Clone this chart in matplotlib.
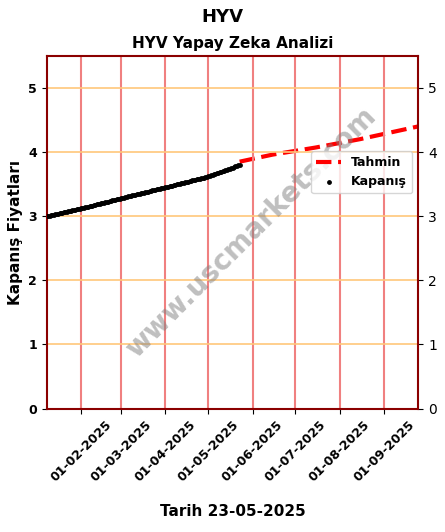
import matplotlib
matplotlib.use("Agg")
import matplotlib.pyplot as plt
import matplotlib.dates as mdates
import numpy as np
import pandas as pd

# closing prices (at a few anchor dates)
close_dates = ["2025-01-08", "2025-02-01", "2025-03-01", "2025-04-01", "2025-05-01", "2025-05-23"]
close_vals = [3.00, 3.12, 3.28, 3.45, 3.62, 3.80]
# forecast line
fc_dates = ["2025-05-23", "2025-06-15", "2025-07-15", "2025-08-15", "2025-09-25"]
fc_vals = [3.85, 3.96, 4.07, 4.20, 4.40]
tick_dates = ["2025-02-01", "2025-03-01", "2025-04-01", "2025-05-01",
              "2025-06-01", "2025-07-01", "2025-08-01", "2025-09-01"]

cd = pd.to_datetime(close_dates)
days = pd.date_range(cd[0], cd[-1], freq="D")
vals = np.interp(days.astype("int64"), cd.astype("int64"), close_vals)

fig, ax = plt.subplots(figsize=(4.45, 5.32), dpi=100)
fig.subplots_adjust(left=0.105, right=0.94, top=0.895, bottom=0.232)

ax.plot(pd.to_datetime(fc_dates), fc_vals, color="red", ls="--", lw=3, label="Tahmin")
ax.scatter(days, vals, s=6, color="black", label="Kapanış", zorder=3)

tk = pd.to_datetime(tick_dates)
for t in tk:
    ax.axvline(t, color="#f08080", lw=1.5)
for y in range(1, 6):
    ax.axhline(y, color="#ffc77a", lw=1.2)

ax.set_xlim(pd.Timestamp("2025-01-08"), pd.Timestamp("2025-09-25"))
ax.set_ylim(0, 5.5)
ax.set_xticks(tk)
ax.xaxis.set_major_formatter(mdates.DateFormatter("%d-%m-%Y"))
plt.setp(ax.get_xticklabels(), rotation=45, fontweight="bold", fontsize=9)
plt.setp(ax.get_yticklabels(), fontweight="bold", fontsize=9)
ax.tick_params(right=True, labelright=True)
for s in ax.spines.values():
    s.set_color("darkred")
    s.set_linewidth(1.5)

ax.set_ylabel("Kapanış Fiyatları", fontsize=11, fontweight="bold")
ax.set_xlabel("Tarih 23-05-2025", fontsize=11, fontweight="bold", labelpad=14)
ax.set_title("HYV Yapay Zeka Analizi", fontsize=11, fontweight="bold")
fig.suptitle("HYV", fontsize=13, fontweight="bold", y=0.985)
ax.text(0.55, 0.5, "www.uscmarkets.com", transform=ax.transAxes, fontsize=20,
        color="gray", alpha=0.5, rotation=45, ha="center", va="center", fontweight="bold")
leg = ax.legend(loc="center right", bbox_to_anchor=(1.0, 0.67), prop={"weight": "bold", "size": 9})
plt.savefig("out.png")
